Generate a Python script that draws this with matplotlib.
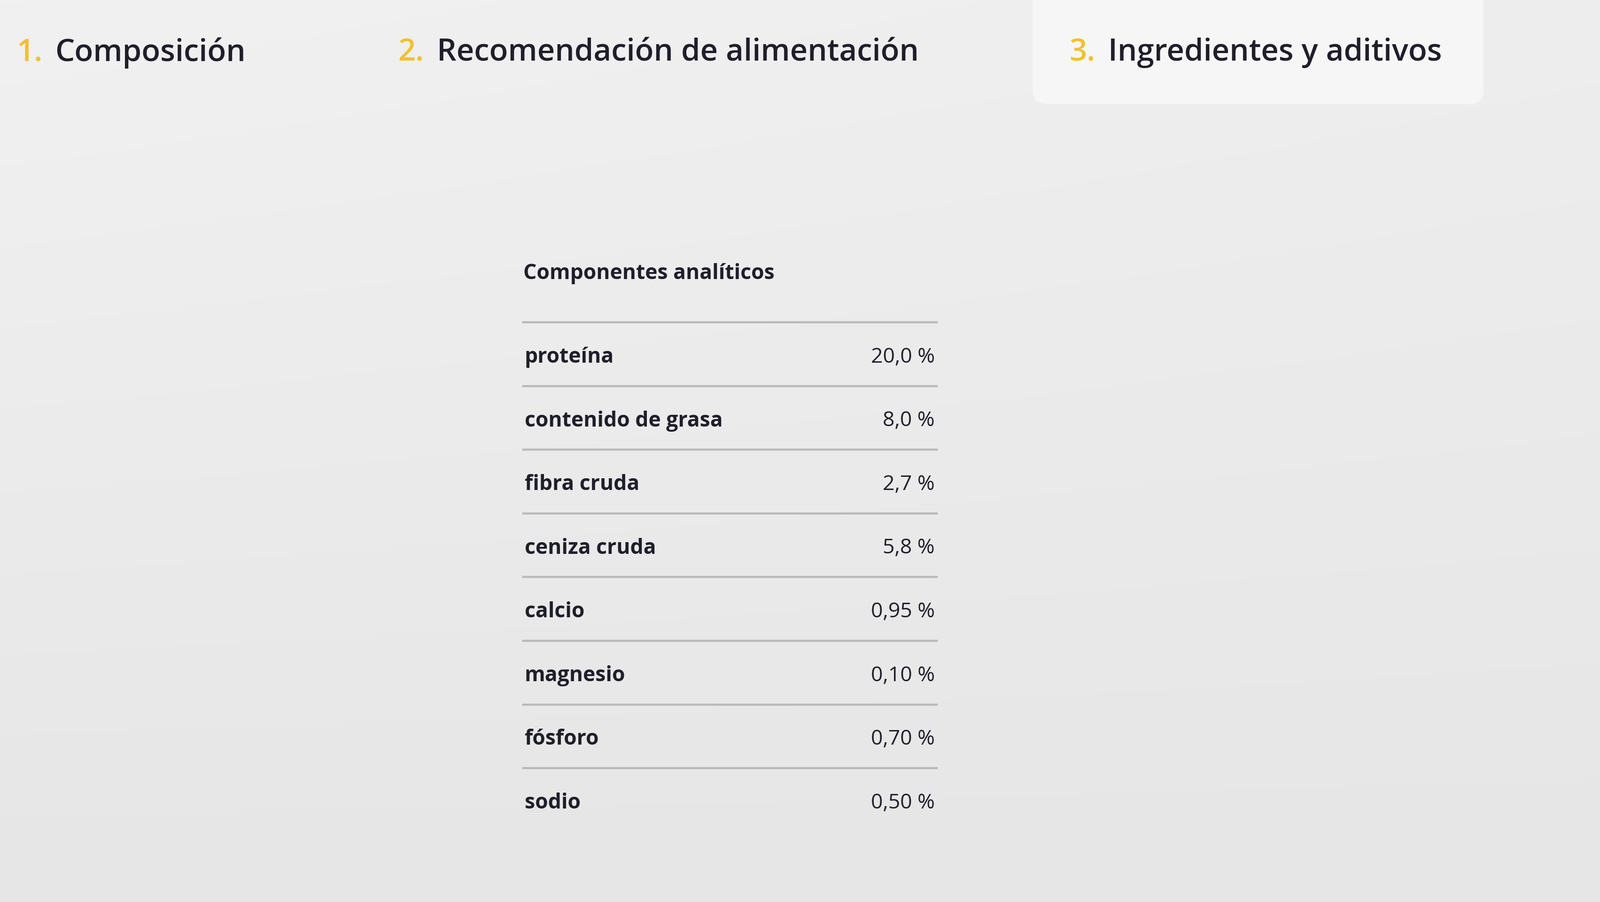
import numpy as np
import matplotlib
matplotlib.use('Agg')
import matplotlib.pyplot as plt
from matplotlib.patches import FancyBboxPatch

tabs = ['Composición', 'Recomendación de alimentación', 'Ingredientes y aditivos']
tab_x = [16, 390, 1048]
heading = 'Componentes analíticos'
components = ['proteína', 'contenido de grasa', 'fibra cruda', 'ceniza cruda',
              'calcio', 'magnesio', 'fósforo', 'sodio']
values = ['20,0 %', '8,0 %', '2,7 %', '5,8 %', '0,95 %', '0,10 %', '0,70 %', '0,50 %']

W, H = 1568, 884
fig = plt.figure(figsize=(17.03, 9.6), dpi=200)
ax = fig.add_axes([0, 0, 1, 1])
ax.set_xlim(0, W)
ax.set_ylim(H, 0)
ax.axis('off')

# soft background gradient
grad = np.linspace(0, 1, 256)
g = np.outer(1 - grad, 1 - grad * 0.3)
ax.imshow(g, extent=[0, W, H, 0], cmap=matplotlib.colors.LinearSegmentedColormap.from_list(
    'bg', ['#e6e6e6', '#f1f1f1']), aspect='auto', zorder=0)

# active tab
ax.add_patch(FancyBboxPatch((1012, -20), 442, 122, boxstyle='round,pad=0,rounding_size=14',
                            fc='#f6f6f6', ec='none', zorder=1))

font = ['Open Sans', 'Noto Sans']
dark = '#1f1f2b'
for i, (t, x) in enumerate(zip(tabs, tab_x)):
    ax.text(x, 52, f'{i + 1}.', fontsize=23.5, color='#f2c12e', family=font,
            fontweight='semibold', va='center', zorder=2)
    ax.text(x + 38, 52, t, fontsize=23.5, color=dark, family=font,
            fontweight='medium', va='center', zorder=2)

x0, x1 = 513, 918
ax.text(x0, 268, heading, fontsize=16, fontweight='bold', color=dark, family=font, va='center')
step = 62.4
top = 316
for i, (c, v) in enumerate(zip(components, values)):
    yl = top + i * step
    ax.plot([x0, x1], [yl, yl], color='#b9b9b9', lw=1.6, zorder=2)
    yc = yl + step / 2 + 3
    ax.text(x0 + 1, yc, c, fontsize=16, fontweight='bold', color=dark, family=font, va='center')
    ax.text(x1 - 2, yc, v, fontsize=16, color=dark, family=font, va='center', ha='right')

fig.savefig('out.png', dpi=200)
